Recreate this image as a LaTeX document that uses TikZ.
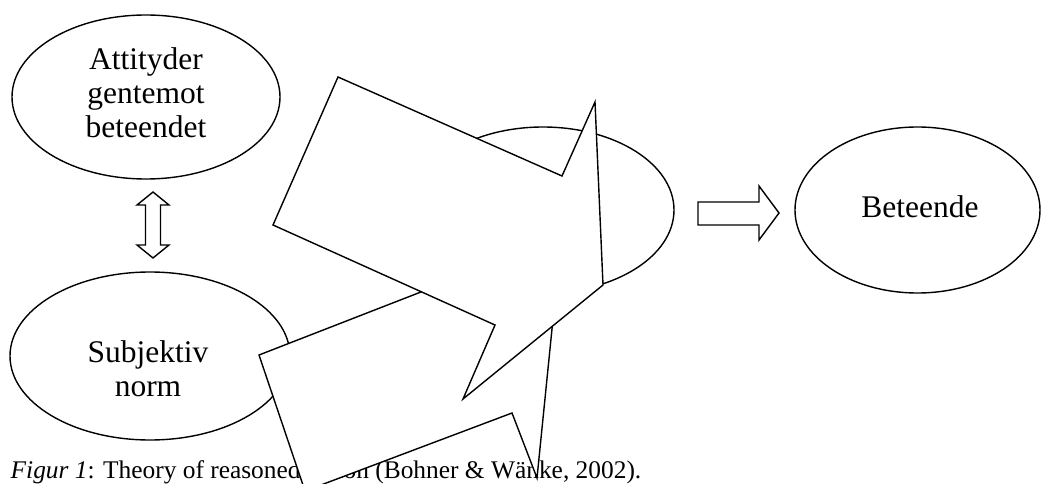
\documentclass[tikz,border=0pt]{standalone}
\usepackage{fontspec}
\setmainfont{Liberation Serif}
\usetikzlibrary{shapes.geometric}
\begin{document}
\begin{tikzpicture}[x=1pt,y=-1pt,line width=1.4pt,
  ell/.style={draw,ellipse,inner sep=0pt,outer sep=0pt},
  lbl/.style={font=\fontsize{31.5}{34}\selectfont,anchor=base,inner sep=0pt},
  blk/.style={draw,fill=white,line join=miter},
  capt/.style={font=\fontsize{25.4}{29}\selectfont,anchor=base west,inner sep=0pt}]
\useasboundingbox (0,0) rectangle (1041,484);
\clip (0,0) rectangle (1041,484);
% ellipses
\node[ell,minimum width=268pt,minimum height=164pt] (att) at (146,97) {};
\node[ell,minimum width=280pt,minimum height=168pt] (norm) at (150,356) {};
\node[ell,minimum width=262pt,minimum height=166pt] (mid) at (543,210) {};
\node[ell,minimum width=245pt,minimum height=166pt] (beh) at (917.5,210) {};
% labels
\node[lbl] (t1) at (146,70) {Attityder};
\node[lbl] (t2) at (146,104) {gentemot};
\node[lbl] (t3) at (146,138) {beteendet};
\node[lbl] (t4) at (148,362) {Subjektiv};
\node[lbl] (t5) at (148,396) {norm};
\node[lbl] (t6) at (920,217) {Beteende};
% block arrows
\draw[blk] (153,192) -- (169,205) -- (160.5,205) -- (160.5,245) -- (169,245) -- (153,258)
  -- (137,245) -- (145.5,245) -- (145.5,205) -- (137,205) -- cycle;
\draw[blk] (698,202) -- (759,202) -- (759,186) -- (779,213) -- (759,240) -- (759,225)
  -- (698,225) -- cycle;
% caption
\node[capt] (cap) at (10,478) {\textit{Figur 1}: Theory of reasoned action (Bohner \& Wänke, 2002).};
% overlapping callout arrows
\draw[blk] (259,355) -- (458.7,277.3) -- (433.2,212.1) -- (553,319) -- (537,478)
  -- (512,413) -- (305,491) -- cycle;
\draw[blk] (338,77) -- (562,176) -- (595,102) -- (603,285) -- (463,399)
  -- (495,325) -- (273,225) -- cycle;
\end{tikzpicture}
\end{document}
